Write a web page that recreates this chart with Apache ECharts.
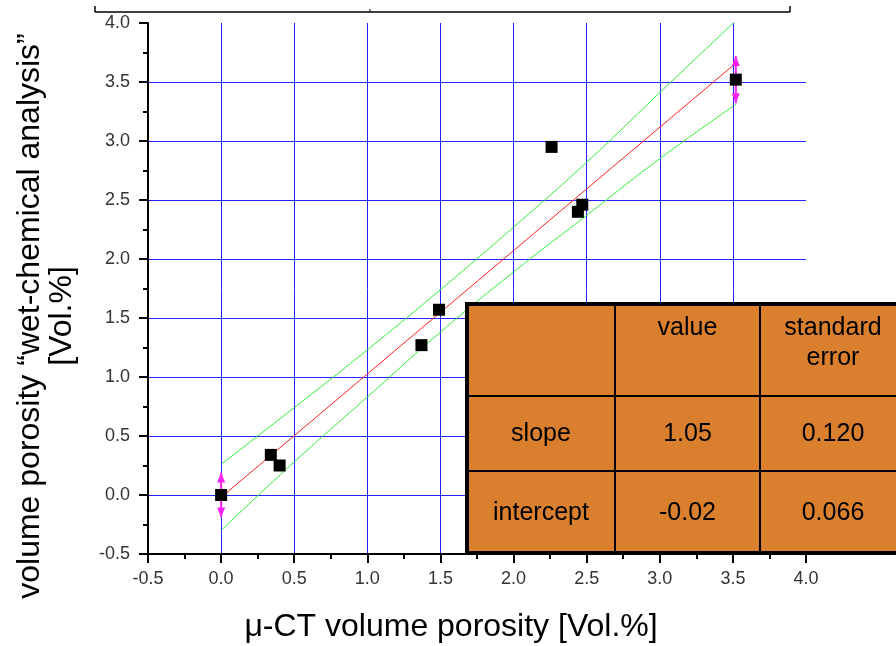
<!DOCTYPE html>
<html>
<head>
<meta charset="utf-8">
<title>porosity comparison</title>
<script src="https://cdn.jsdelivr.net/npm/echarts@6/dist/echarts.min.js"></script>
<style>
html, body { margin: 0; padding: 0; background: #fff; }
#chart { width: 896px; height: 646px; }
</style>
</head>
<body>
<div id="chart"></div>
<script>
// measured points (µ-CT vs wet-chemical)
var ctX  = [0.00, 0.34, 0.40, 1.37, 1.49, 2.26, 2.44, 2.47, 3.52];
var wetY = [0.00, 0.34, 0.25, 1.27, 1.57, 2.95, 2.40, 2.46, 3.52];

// linear fit and confidence band
var fitX   = [0, 3.52];
var fitY   = [-0.02, 3.66];
var bandX  = [0, 0.5, 1.0, 1.5, 2.0, 2.5, 3.0, 3.52];
var bandHi = [0.26, 0.74, 1.23, 1.74, 2.27, 2.82, 3.41, 4.02];
var bandLo = [-0.30, 0.28, 0.83, 1.38, 1.89, 2.37, 2.85, 3.31];

// error bars: x, y, +/- error
var errX = [0, 3.52];
var errY = [0, 3.52];
var errE = [0.19, 0.20];

// axis titles
var xTitle = 'μ-CT volume porosity [Vol.%]';
var yTitle = ['volume porosity “wet-chemical analysis”', '[Vol.%]'];

// fit result table
var tableHead = ['', 'value', 'standard\nerror'];
var tableRows = [
	['slope', '1.05', '0.120'],
	['intercept', '-0.02', '0.066']
];

var FONT = 'Liberation Sans, Arial, sans-serif';

function pairs(xs, ys) {
	var out = [];
	for (var i = 0; i < xs.length; i++) out.push([xs[i], ys[i]]);
	return out;
}

var chart = echarts.init(document.getElementById('chart'), null, { renderer: 'canvas' });

function axisBase() {
	return {
		type: 'value',
		min: -0.5,
		max: 4.0,
		interval: 0.5,
		axisLine: { show: true, onZero: false, lineStyle: { color: '#000', width: 2 } },
		axisTick: { show: true, inside: false, length: 9, lineStyle: { color: '#000', width: 2 } },
		minorTick: { show: true, splitNumber: 2, length: 5, lineStyle: { color: '#000', width: 2 } },
		splitLine: { show: true, showMinLine: false, showMaxLine: false, lineStyle: { color: '#2222ff', width: 1 } },
		axisLabel: {
			fontFamily: FONT, fontSize: 18, color: '#333',
			formatter: function (v) { return v.toFixed(1); }
		}
	};
}

var xAxis = axisBase();
xAxis.axisLabel.margin = 16;

var yAxis = axisBase();
yAxis.axisLabel.margin = 18;

// table graphic
var colX = [467, 615, 760, 906];
var rowY = [304, 396, 471, 553];
var tableEls = [{
	type: 'rect',
	shape: { x: colX[0], y: rowY[0], width: colX[3] - colX[0], height: rowY[3] - rowY[0] },
	style: { fill: '#D97F2E', stroke: '#000', lineWidth: 4 },
	z: 100
}];
[1, 2].forEach(function (c) {
	tableEls.push({ type: 'line', shape: { x1: colX[c], y1: rowY[0], x2: colX[c], y2: rowY[3] },
		style: { stroke: '#000', lineWidth: 2 }, z: 101 });
});
[1, 2].forEach(function (r) {
	tableEls.push({ type: 'line', shape: { x1: colX[0], y1: rowY[r], x2: colX[3], y2: rowY[r] },
		style: { stroke: '#000', lineWidth: 2 }, z: 101 });
});
tableHead.forEach(function (t, c) {
	if (!t) return;
	tableEls.push({ type: 'text', z: 102,
		style: { text: t, x: (colX[c] + colX[c + 1]) / 2, y: rowY[0] + 9, align: 'center', verticalAlign: 'top',
			font: '25px ' + FONT, fill: '#000', lineHeight: 30 } });
});
tableRows.forEach(function (row, r) {
	row.forEach(function (t, c) {
		tableEls.push({ type: 'text', z: 102,
			style: { text: t, x: (colX[c] + colX[c + 1]) / 2, y: (rowY[r + 1] + rowY[r + 2]) / 2 + 1,
				align: 'center', verticalAlign: 'middle', font: '25px ' + FONT, fill: '#000' } });
	});
});

// axis titles as text
var titles = [
	{ type: 'text', x: 451, y: 627,
		style: { text: xTitle, align: 'center', verticalAlign: 'middle', font: '32px ' + FONT, fill: '#000' } },
	{ type: 'text', x: 30, y: 316, rotation: Math.PI / 2,
		style: { text: yTitle[0], align: 'center', verticalAlign: 'middle', font: '32px ' + FONT, fill: '#000' } },
	{ type: 'text', x: 62, y: 316, rotation: Math.PI / 2,
		style: { text: yTitle[1], align: 'center', verticalAlign: 'middle', font: '32px ' + FONT, fill: '#000' } }
];

// leftover frame at top of the figure
var topFrame = [
	{ type: 'line', shape: { x1: 95, y1: 12, x2: 790, y2: 12 }, style: { stroke: '#000', lineWidth: 1.5 } },
	{ type: 'line', shape: { x1: 95, y1: 6, x2: 95, y2: 12 }, style: { stroke: '#000', lineWidth: 1.5 } },
	{ type: 'line', shape: { x1: 790, y1: 6, x2: 790, y2: 12 }, style: { stroke: '#000', lineWidth: 1.5 } },
	{ type: 'line', shape: { x1: 370, y1: 9, x2: 370, y2: 12 }, style: { stroke: '#000', lineWidth: 1 } }
];

option = {
	backgroundColor: '#fff',
	animation: false,
	grid: { left: 148, right: 90, top: 23, bottom: 92, containLabel: false },
	xAxis: xAxis,
	yAxis: yAxis,
	graphic: topFrame.concat(titles, tableEls),
	series: [
		{
			type: 'line', data: pairs(bandX, bandHi), symbol: 'none', smooth: true,
			lineStyle: { color: '#33ee33', width: 1 }, z: 3
		},
		{
			type: 'line', data: pairs(bandX, bandLo), symbol: 'none', smooth: true,
			lineStyle: { color: '#33ee33', width: 1 }, z: 3
		},
		{
			type: 'line', data: pairs(fitX, fitY), symbol: 'none',
			lineStyle: { color: '#ff2020', width: 1 }, z: 4
		},
		{
			type: 'custom', z: 5,
			data: errX.map(function (x, i) { return [x, errY[i], errE[i]]; }),
			renderItem: function (params, api) {
				var x = api.value(0), y = api.value(1), e = api.value(2);
				var top = api.coord([x, y + e]);
				var bot = api.coord([x, y - e]);
				var c = '#ff22ee';
				return {
					type: 'group',
					children: [
						{ type: 'line', shape: { x1: top[0], y1: top[1], x2: bot[0], y2: bot[1] },
							style: { stroke: c, lineWidth: 2 } },
						{ type: 'polygon', shape: { points: [[top[0], top[1]], [top[0] - 4, top[1] + 10], [top[0] + 4, top[1] + 10]] },
							style: { fill: c } },
						{ type: 'polygon', shape: { points: [[bot[0], bot[1]], [bot[0] - 4, bot[1] - 10], [bot[0] + 4, bot[1] - 10]] },
							style: { fill: c } }
					]
				};
			}
		},
		{
			type: 'scatter', data: pairs(ctX, wetY), symbol: 'rect', symbolSize: 12,
			itemStyle: { color: '#000', opacity: 1 }, z: 6
		}
	]
};

chart.setOption(option);
</script>
</body>
</html>
